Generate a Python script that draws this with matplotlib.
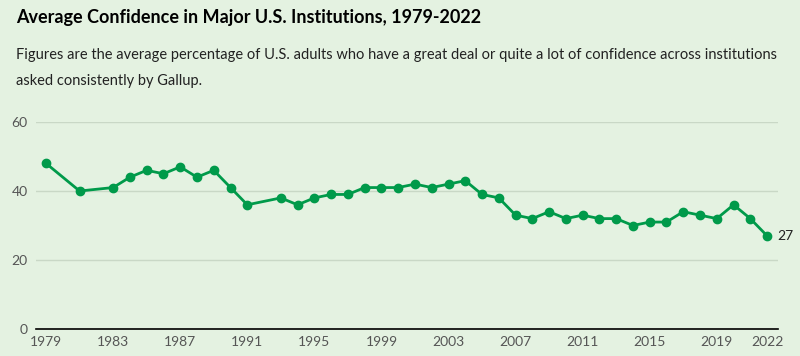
import matplotlib.pyplot as plt

# Average confidence in institutions (Gallup)
years = [1979, 1981, 1983, 1984, 1985, 1986, 1987, 1988, 1989, 1990, 1991,
         1993, 1994, 1995, 1996, 1997, 1998, 1999, 2000, 2001, 2002, 2003,
         2004, 2005, 2006, 2007, 2008, 2009, 2010, 2011, 2012, 2013, 2014,
         2015, 2016, 2017, 2018, 2019, 2020, 2021, 2022]
confidence = [48, 40, 41, 44, 46, 45, 47, 44, 46, 41, 36,
              38, 36, 38, 39, 39, 41, 41, 41, 42, 41, 42,
              43, 39, 38, 33, 32, 34, 32, 33, 32, 32, 30,
              31, 31, 34, 33, 32, 36, 32, 27]
xticks = [1979, 1983, 1987, 1991, 1995, 1999, 2003, 2007, 2011, 2015, 2019, 2022]
yticks = [0, 20, 40, 60]

bg = "#e4f2e1"
green = "#009a4a"
plt.rcParams['font.family'] = ['Lato', 'DejaVu Sans']

fig = plt.figure(figsize=(8, 3.56), dpi=100, facecolor=bg)
ax = fig.add_axes([0.045, 0.0758, 0.9275, 0.5815])
ax.set_facecolor(bg)

ax.plot(years, confidence, color=green, linewidth=2, marker="o", markersize=6, clip_on=False, zorder=3)
ax.text(years[-1] + 0.6, confidence[-1], str(confidence[-1]), fontsize=10, color="#222222", va="center", ha="left")

ax.set_xlim(1978.4, 2022.65)
ax.set_ylim(0, 60)
ax.set_xticks(xticks)
ax.set_yticks(yticks)
ax.tick_params(length=0, labelsize=10, labelcolor="#555555")
ax.tick_params(axis="y", pad=6)
ax.tick_params(axis="x", pad=5)
ax.grid(axis="y", color="#c9d8c6", linewidth=1)
ax.set_axisbelow(True)
for s in ["top", "right", "left"]:
    ax.spines[s].set_visible(False)
ax.spines["bottom"].set_color("black")
ax.spines["bottom"].set_linewidth(1.2)
ax.spines["bottom"].set_zorder(4)

fig.text(0.02, 0.951, "Average Confidence in Major U.S. Institutions, 1979-2022",
         fontsize=13, fontweight="bold", color="black", va="center")
fig.text(0.02, 0.845, "Figures are the average percentage of U.S. adults who have a great deal or quite a lot of confidence across institutions",
         fontsize=10.5, color="#222222", va="center")
fig.text(0.02, 0.772, "asked consistently by Gallup.",
         fontsize=10.5, color="#222222", va="center")

fig.savefig("out.png", dpi=100, facecolor=bg)
